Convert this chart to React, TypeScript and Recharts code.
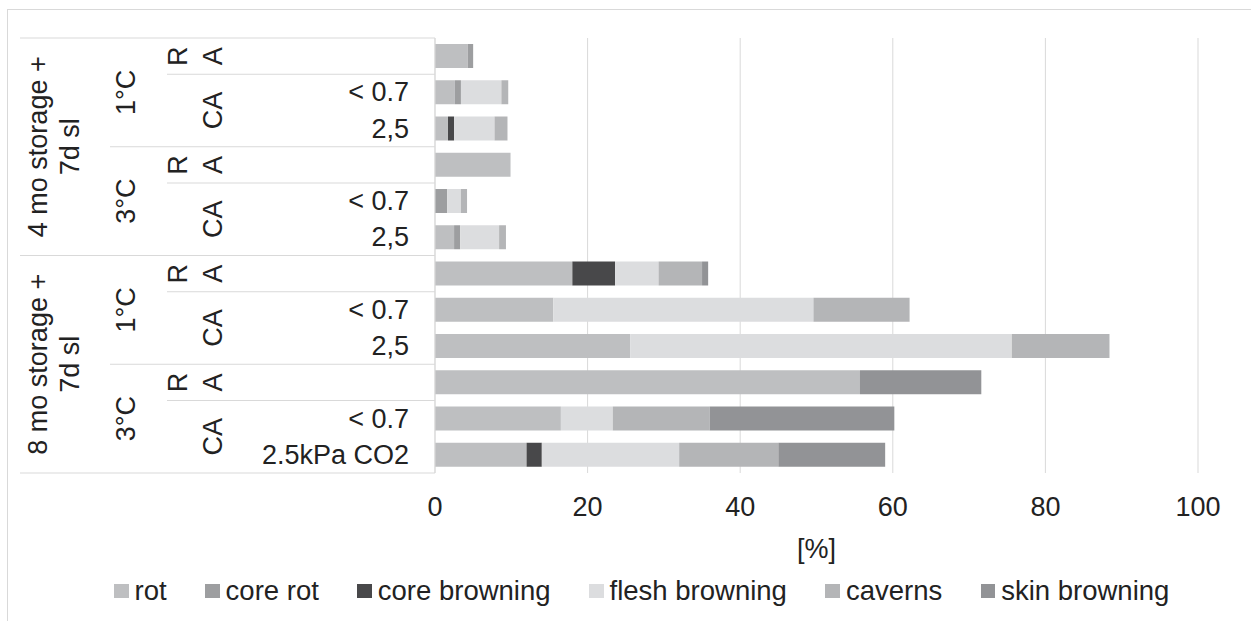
import { Bar, BarChart, CartesianGrid, Legend, XAxis, YAxis } from "recharts"

const W = 1251
const H = 621
const FONT = '"Liberation Sans", Arial, sans-serif'
const FS = 27
const TEXT = "#222"
const LINE = "#d9d9d9"

// plot frame (px)
const TOP = 38
const BOTTOM = 473
const AXIS_X = 435
const RIGHT = 1198
const COL1 = 20
const COL2 = 110
const COL3 = 167

// category levels, one entry per row (top to bottom)
const storageLabels = [["4 mo storage +", "7d sl"], ["8 mo storage +", "7d sl"]]
const tempLabels = ["1°C", "3°C"]
const atmLabels = ["RA", "CA"]
const rowStorage = [0, 0, 0, 0, 0, 0, 1, 1, 1, 1, 1, 1]
const rowTemp = [0, 0, 0, 1, 1, 1, 0, 0, 0, 1, 1, 1]
const rowAtm = [0, 1, 1, 0, 1, 1, 0, 1, 1, 0, 1, 1]
const co2Labels = ["", "< 0.7", "2,5", "", "< 0.7", "2,5", "", "< 0.7", "2,5", "", "< 0.7", "2.5kPa CO2"]

// series values [%]
const rot = [4.3, 2.6, 1.7, 9.9, 0, 2.5, 18, 15.5, 25.6, 55.7, 16.5, 12]
const coreRot = [0.7, 0.8, 0, 0, 1.6, 0.8, 0, 0, 0, 0, 0, 0]
const coreBrowning = [0, 0, 0.8, 0, 0, 0, 5.6, 0, 0, 0, 0, 2]
const fleshBrowning = [0, 5.3, 5.3, 0, 1.8, 5.1, 5.7, 34.1, 50, 0, 6.8, 18]
const caverns = [0, 0.9, 1.7, 0, 0.8, 0.9, 5.7, 12.6, 12.8, 0, 12.7, 13]
const skinBrowning = [0, 0, 0, 0, 0, 0, 0.8, 0, 0, 15.9, 24.2, 14]

const xTicks = [0, 20, 40, 60, 80, 100]

const series = [
  { key: "rot", name: "rot", color: "#bebfc1", values: rot },
  { key: "coreRot", name: "core rot", color: "#9d9ea0", values: coreRot },
  { key: "coreBrowning", name: "core browning", color: "#48484a", values: coreBrowning },
  { key: "fleshBrowning", name: "flesh browning", color: "#dcdddf", values: fleshBrowning },
  { key: "caverns", name: "caverns", color: "#b4b5b7", values: caverns },
  { key: "skinBrowning", name: "skin browning", color: "#929396", values: skinBrowning },
]

const data = co2Labels.map((_, i) => {
  const row: Record<string, number | string> = { id: `r${i}` }
  series.forEach((s) => (row[s.key] = s.values[i]))
  return row
})

const ROW_H = (BOTTOM - TOP) / data.length

const txt = { fontFamily: FONT, fontSize: FS, fill: TEXT }

function Rot({ x, y, children }: { x: number; y: number; children: string }) {
  return (
    <text {...txt} x={x} y={y} textAnchor="middle" dominantBaseline="central" transform={`rotate(-90 ${x} ${y})`}>
      {children}
    </text>
  )
}

function CategoryTick(props: any) {
  const { y, index } = props
  const i = index as number
  const top = y - ROW_H / 2
  let lineStart: number | null = null
  if (i === 0 || rowStorage[i] !== rowStorage[i - 1]) lineStart = COL1
  else if (rowTemp[i] !== rowTemp[i - 1]) lineStart = COL2
  else if (rowAtm[i] !== rowAtm[i - 1]) lineStart = COL3

  const firstStorage = i === 0 || rowStorage[i] !== rowStorage[i - 1]
  const firstTemp = firstStorage || rowTemp[i] !== rowTemp[i - 1]
  const firstAtm = firstTemp || rowAtm[i] !== rowAtm[i - 1]

  return (
    <g>
      {lineStart !== null && <line x1={lineStart} x2={AXIS_X} y1={top} y2={top} stroke={LINE} />}
      {i === data.length - 1 && (
        <line x1={COL1} x2={AXIS_X} y1={top + ROW_H} y2={top + ROW_H} stroke={LINE} />
      )}
      {firstStorage && (
        <>
          <Rot x={38} y={top + ROW_H * 3}>{storageLabels[rowStorage[i]][0]}</Rot>
          <Rot x={70} y={top + ROW_H * 3}>{storageLabels[rowStorage[i]][1]}</Rot>
        </>
      )}
      {firstTemp && <Rot x={126} y={top + ROW_H * 1.5}>{tempLabels[rowTemp[i]]}</Rot>}
      {firstAtm && rowAtm[i] === 0 && (
        <>
          <Rot x={178} y={y}>{atmLabels[0][0]}</Rot>
          <Rot x={213} y={y}>{atmLabels[0][1]}</Rot>
        </>
      )}
      {firstAtm && rowAtm[i] === 1 && <Rot x={213} y={top + ROW_H}>{atmLabels[1]}</Rot>}
      {co2Labels[i] && (
        <text {...txt} x={409} y={y} textAnchor="end" dominantBaseline="central">
          {co2Labels[i]}
        </text>
      )}
    </g>
  )
}

function ValueTick(props: any) {
  const { x, payload } = props
  return (
    <text {...txt} x={x} y={507} textAnchor="middle" dominantBaseline="central">
      {payload.value}
    </text>
  )
}

function AxisTitle(props: any) {
  const { viewBox } = props
  return (
    <text {...txt} x={viewBox.x + viewBox.width / 2} y={549} textAnchor="middle" dominantBaseline="central">
      [%]
    </text>
  )
}

// keep the legend in series order (recharts sorts by name otherwise)
function LegendContent() {
  return (
    <div
      style={{
        display: "flex",
        alignItems: "center",
        height: 40,
        paddingLeft: 114,
        fontFamily: FONT,
        fontSize: 27.5,
        color: TEXT,
        whiteSpace: "nowrap",
      }}
    >
      {series.map((s) => (
        <span key={s.key} style={{ display: "flex", alignItems: "center", marginRight: 38.5 }}>
          <span style={{ width: 14.5, height: 14.5, background: s.color, marginRight: 6 }} />
          {s.name}
        </span>
      ))}
    </div>
  )
}

export default function App() {
  return (
    <div style={{ position: "absolute", left: 0, top: 0, width: W, height: H, background: "#fff", overflow: "hidden" }}>
      <div
        style={{
          position: "absolute",
          left: 7,
          top: 9,
          width: W,
          height: H,
          borderTop: `1px solid ${LINE}`,
          borderLeft: `1px solid ${LINE}`,
        }}
      />
      <BarChart
        width={W}
        height={H}
        data={data}
        layout="vertical"
        margin={{ top: TOP, right: W - RIGHT, bottom: 10, left: COL1 }}
        style={{ position: "absolute", left: 0, top: 0 }}
      >
        <CartesianGrid horizontal={false} stroke={LINE} />
        <XAxis
          type="number"
          domain={[0, 100]}
          ticks={xTicks}
          axisLine={false}
          tickLine={false}
          height={H - BOTTOM - 10 - 40}
          tick={<ValueTick />}
          label={<AxisTitle />}
        />
        <YAxis
          type="category"
          dataKey="id"
          width={AXIS_X - COL1}
          axisLine={{ stroke: LINE }}
          tickLine={false}
          tick={<CategoryTick />}
          interval={0}
        />
        <Legend verticalAlign="bottom" content={<LegendContent />} wrapperStyle={{ left: 0, width: W }} />
        {series.map((s) => (
          <Bar key={s.key} dataKey={s.key} name={s.name} stackId="a" fill={s.color} barSize={24} isAnimationActive={false} />
        ))}
      </BarChart>
    </div>
  )
}
